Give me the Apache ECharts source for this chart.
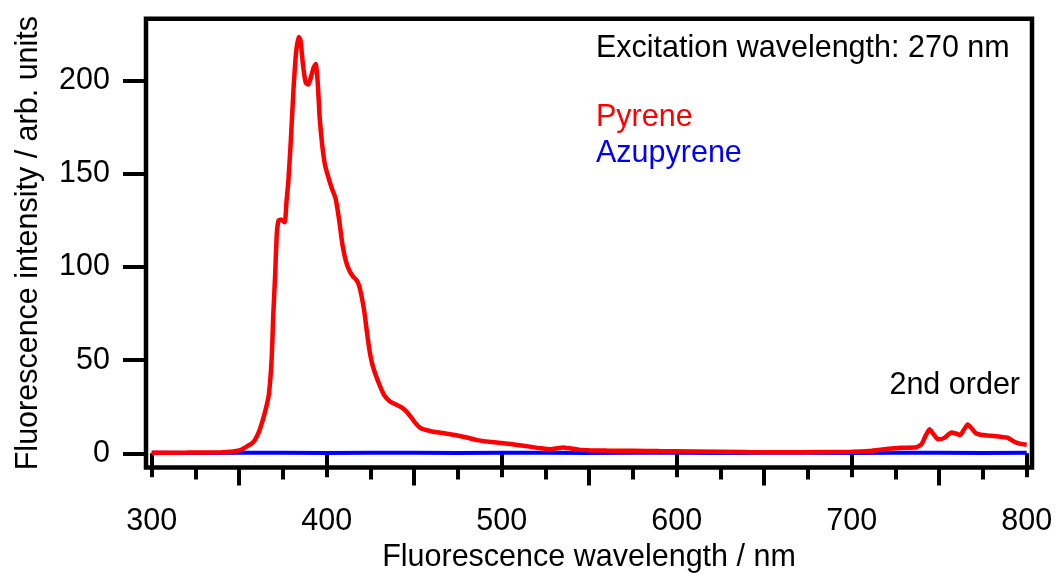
<!DOCTYPE html>
<html>
<head>
<meta charset="utf-8">
<script src="https://cdn.jsdelivr.net/npm/echarts@6/dist/echarts.min.js"></script>
<style>html,body{margin:0;padding:0;background:#fff}#c{width:1056px;height:574px}</style>
</head>
<body>
<div id="c"></div>
<script>
// Pyrene emission (wavelength nm, intensity)
var pyreneWl = [300,320,340,345,350,354,358,361,363.5,365.5,367,368.5,369.5,370.5,371.5,372.5,374,376,377,378,379.5,381,382.5,384,385,386.5,388,389.5,391,392.5,393.7,394.8,396,397.5,399,401,403,405,407,409,411,413,415,417,418.5,420,421.5,423,424.5,426,428,430.5,433,436,440,443,446,448.5,450.5,453,455.5,459,463,468,474,480,486,493,501,509,516,522,528,532,535,539,544,550,560,575,590,610,640,670,700,710,720,728,737,740,742,744.5,747,749.5,753,757,760,762,764,766.3,768.5,771,775,780,785,789,793,796,800];
var pyreneVal = [0.3,0.4,0.6,0.9,1.6,3.5,6,11,18,25,32,50,75,95,118,125,125.5,124,135,145,168,195,215,223.5,222,208,199,198,202,207,209,200,180,165,155,148,142,137,126,112,103,98,95,93,90,84,76,65,55,48,42,36,31,28,26,24.5,22,19,16.5,14,12.8,12,11.3,10.6,9.7,8.5,7.1,6.2,5.4,4.5,3.6,2.8,2.2,2.8,3.2,2.7,2.0,1.7,1.5,1.4,1.2,1.0,0.7,0.6,0.8,1.2,2.3,3.0,3.3,5,9,12.9,10,7.5,8.3,11.2,10.5,9.8,12.5,15.5,13.5,10.8,9.8,9.4,8.9,8.4,6.2,5.2,4.6];
// Azupyrene (flat, near zero)
var azuWl = [300,325,350,375,400,425,450,475,500,525,550,575,600,625,650,675,700,725,750,775,800];
var azuVal = [0.3,0.2,0.3,0.3,0.2,0.3,0.3,0.2,0.3,0.3,0.2,0.3,0.3,0.2,0.3,0.3,0.2,0.3,0.3,0.2,0.3];
// ticks
var xMajorTicks = [300,400,500,600,700,800];
var xMidTicks = [350,450,550,650,750];
var xMinorTicks = [325,375,425,475,525,575,625,675,725,775];
var yTicks = [0,50,100,150,200];

var FONT = 'Liberation Sans, Arial, sans-serif';
var FS = 30.5;
var XMIN = 296.74, XMAX = 803.03, YMIN = -7.6, YMAX = 233.3;

function zip(a,b){return a.map(function(v,i){return [v,b[i]];});}

function xAx(ticks, len, labels){
  return {
    type:'value', position:'bottom', min:XMIN, max:XMAX, gridIndex:0,
    axisLine:{show:false}, splitLine:{show:false},
    axisTick:{show:true, customValues:ticks, length:len, inside:false, lineStyle:{color:'#000', width:4}},
    axisLabel:{show:labels, customValues:ticks, margin:39, color:'#000', fontSize:FS, fontFamily:FONT},
    name: labels ? 'Fluorescence wavelength / nm' : '',
    nameLocation:'middle', nameGap:75,
    nameTextStyle:{color:'#000', fontSize:FS, fontFamily:FONT}
  };
}

var chart = echarts.init(document.getElementById('c'), null, {renderer:'canvas'});
chart.setOption({
  animation:false,
  backgroundColor:'#fff',
  grid:{left:146, right:24, top:18.7, bottom:106.5, outerBoundsMode:'none', containLabel:false, show:true, borderColor:'#000', borderWidth:4.5, backgroundColor:'transparent'},
  xAxis:[xAx(xMajorTicks,24,true), xAx(xMidTicks,18,false), xAx(xMinorTicks,12,false)],
  yAxis:{
    type:'value', min:YMIN, max:YMAX,
    axisLine:{show:false}, splitLine:{show:false},
    axisTick:{show:true, customValues:yTicks, length:23, lineStyle:{color:'#000', width:4}},
    axisLabel:{customValues:yTicks, margin:36, color:'#000', fontSize:FS, fontFamily:FONT},
    name:'Fluorescence intensity / arb. units', nameLocation:'middle', nameGap:102,
    nameTextStyle:{color:'#000', fontSize:FS, fontFamily:FONT}
  },
  graphic:[
    {type:'text', left:596, top:33, style:{text:'Excitation wavelength: 270 nm', fill:'#000', font:FS+'px '+FONT}},
    {type:'text', left:596, top:102, style:{text:'Pyrene', fill:'#ff0000', font:FS+'px '+FONT}},
    {type:'text', left:596, top:138.5, style:{text:'Azupyrene', fill:'#0000ff', font:FS+'px '+FONT}},
    {type:'text', right:36, top:370, style:{text:'2nd order', fill:'#000', font:FS+'px '+FONT}}
  ],
  series:[
    {type:'line', name:'Azupyrene', data:zip(azuWl,azuVal), showSymbol:false, lineStyle:{color:'#0000ff', width:4}, z:2},
    {type:'line', name:'Pyrene', data:zip(pyreneWl,pyreneVal), showSymbol:false, smooth:0.2, lineStyle:{color:'#ff0000', width:4.5}, z:3}
  ]
});
</script>
</body>
</html>
